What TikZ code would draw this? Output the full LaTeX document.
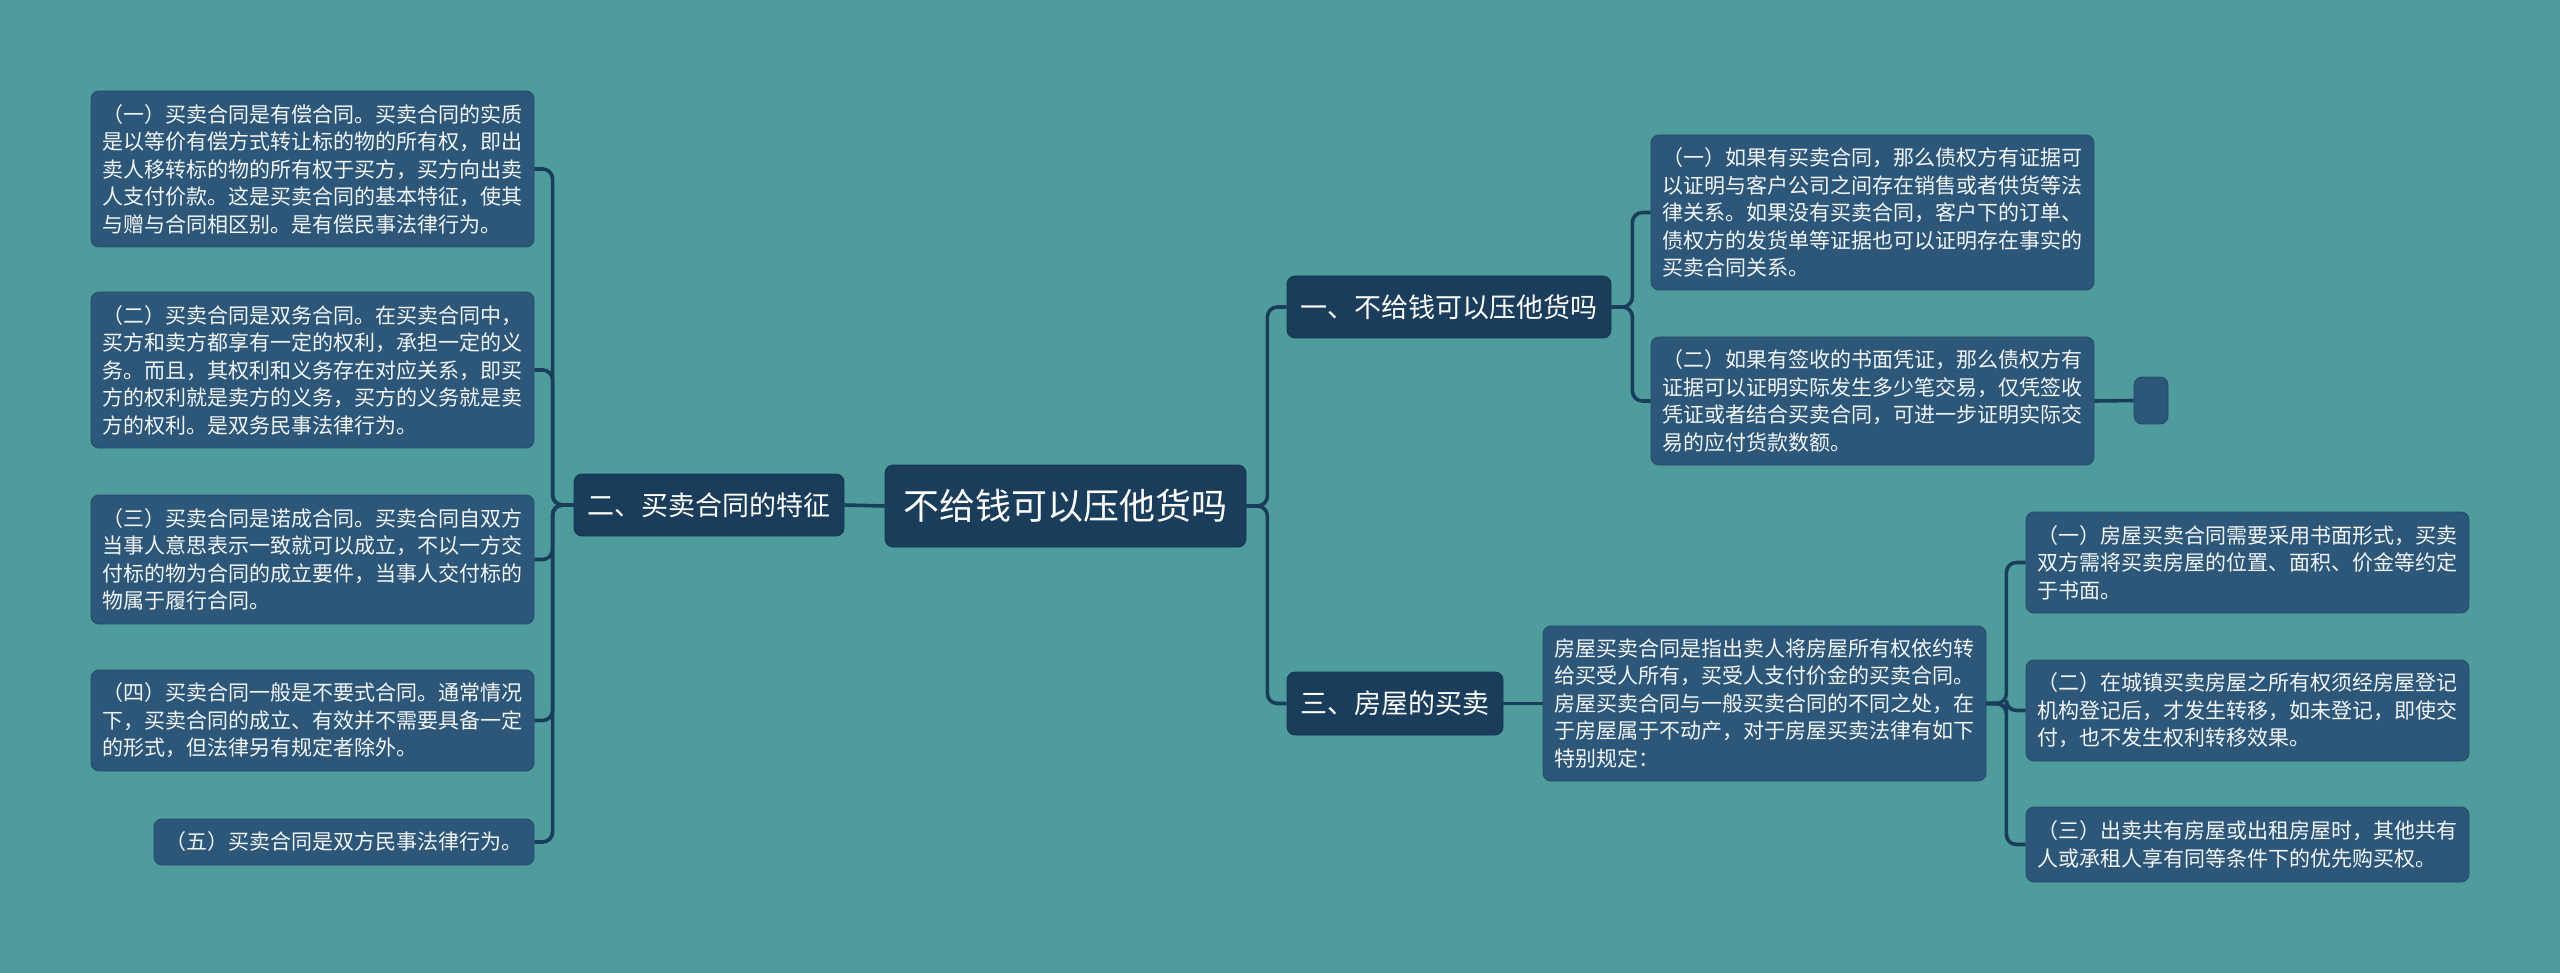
\documentclass[tikz,border=0pt]{standalone}
\usepackage{fontspec}
\newfontfamily\cjk{Noto Sans CJK SC}
\definecolor{bgteal}{HTML}{4F9C9C}
\definecolor{darknode}{HTML}{1A3D5C}
\definecolor{leafnode}{HTML}{2D5779}
\definecolor{leaftext}{HTML}{F2F5F7}
\begin{document}
\begin{tikzpicture}[x=0.5pt,y=-0.5pt,
  leaf/.style={draw=leafnode!85!black, line width=0.4pt, fill=leafnode, rounded corners=4pt, text=leaftext,
    align=left, text width=210.5pt, inner xsep=5.5pt, inner ysep=0pt,
    font=\cjk\fontsize{10.5pt}{13.75pt}\selectfont},
  topic/.style={draw=darknode!85!black, line width=0.4pt, fill=darknode, rounded corners=4pt, text=white, align=center,
    inner sep=0pt, font=\cjk\fontsize{13.5pt}{16pt}\selectfont},
  rootbox/.style={draw=darknode!85!black, line width=0.4pt, fill=darknode, rounded corners=4pt, text=white, align=center,
    inner sep=0pt, font=\cjk\fontsize{18pt}{22pt}\selectfont},
  conn/.style={draw=darknode, line width=1.8pt, rounded corners=5pt}]
\fill[bgteal] (0,0) rectangle (2560,973);
\useasboundingbox (0,0) rectangle (2560,973);

% root and topics
\node[rootbox, minimum width=180.5pt, minimum height=41pt] (root) at (1065.5,506) {不给钱可以压他货吗};
\node[topic, minimum width=135pt, minimum height=31pt] (two) at (709,505) {二、买卖合同的特征};
\node[topic, minimum width=162pt, minimum height=31pt] (one) at (1449,307) {一、不给钱可以压他货吗};
\node[topic, minimum width=108pt, minimum height=31.5pt] (three) at (1395,703.5) {三、房屋的买卖};

% left leaves
\node[leaf, minimum height=78pt] (L1) at (312.5,169) {（一）买卖合同是有偿合同。买卖合同的实质\\是以等价有偿方式转让标的物的所有权，即出\\卖人移转标的物的所有权于买方，买方向出卖\\人支付价款。这是买卖合同的基本特征，使其\\与赠与合同相区别。是有偿民事法律行为。};
\node[leaf, minimum height=78pt] (L2) at (312.5,370) {（二）买卖合同是双务合同。在买卖合同中，\\买方和卖方都享有一定的权利，承担一定的义\\务。而且，其权利和义务存在对应关系，即买\\方的权利就是卖方的义务，买方的义务就是卖\\方的权利。是双务民事法律行为。};
\node[leaf, minimum height=64.5pt] (L3) at (312.5,559.5) {（三）买卖合同是诺成合同。买卖合同自双方\\当事人意思表示一致就可以成立，不以一方交\\付标的物为合同的成立要件，当事人交付标的\\物属于履行合同。};
\node[leaf, minimum height=50.5pt] (L4) at (312.5,720.5) {（四）买卖合同一般是不要式合同。通常情况\\下，买卖合同的成立、有效并不需要具备一定\\的形式，但法律另有规定者除外。};
\node[leaf, text width=179pt, minimum height=23pt] (L5) at (344,842) {（五）买卖合同是双方民事法律行为。};

% right upper leaves
\node[leaf, minimum height=77.5pt] (A) at (1872.5,212.5) {（一）如果有买卖合同，那么债权方有证据可\\以证明与客户公司之间存在销售或者供货等法\\律关系。如果没有买卖合同，客户下的订单、\\债权方的发货单等证据也可以证明存在事实的\\买卖合同关系。};
\node[leaf, minimum height=64pt] (B) at (1872.5,401) {（二）如果有签收的书面凭证，那么债权方有\\证据可以证明实际发生多少笔交易，仅凭签收\\凭证或者结合买卖合同，可进一步证明实际交\\易的应付货款数额。};
\node[leaf, text width=0pt, inner xsep=0pt, minimum width=17pt, minimum height=23.5pt] (small) at (2151,400.5) {};

% right lower
\node[leaf, minimum height=77.5pt] (P) at (1764.5,703.5) {房屋买卖合同是指出卖人将房屋所有权依约转\\给买受人所有，买受人支付价金的买卖合同。\\房屋买卖合同与一般买卖合同的不同之处，在\\于房屋属于不动产，对于房屋买卖法律有如下\\特别规定：};
\node[leaf, minimum height=50.5pt] (R1) at (2247.5,562.5) {（一）房屋买卖合同需要采用书面形式，买卖\\双方需将买卖房屋的位置、面积、价金等约定\\于书面。};
\node[leaf, minimum height=50.5pt] (R2) at (2247.5,710.5) {（二）在城镇买卖房屋之所有权须经房屋登记\\机构登记后，才发生转移，如未登记，即使交\\付，也不发生权利转移效果。};
\node[leaf, minimum height=37.5pt] (R3) at (2247.5,844.5) {（三）出卖共有房屋或出租房屋时，其他共有\\人或承租人享有同等条件下的优先购买权。};

% connectors
\draw[conn] (root.west) -- (two.east);
\draw[conn] (root.east) -- ++(21,0) |- (one.west);
\draw[conn] (root.east) -- ++(21,0) |- (three.west);
\foreach \n in {L1,L2,L3,L4,L5}
  \draw[conn] (two.west) -- ++(-21,0) |- (\n.east);
\draw[conn] (one.east) -- ++(21,0) |- (A.west);
\draw[conn] (one.east) -- ++(21,0) |- (B.west);
\draw[conn] (B.east) -- (small.west);
\draw[conn] (three.east) -- (P.west);
\foreach \n in {R1,R2,R3}
  \draw[conn] (P.east) -- ++(20,0) |- (\n.west);
\end{tikzpicture}
\end{document}
